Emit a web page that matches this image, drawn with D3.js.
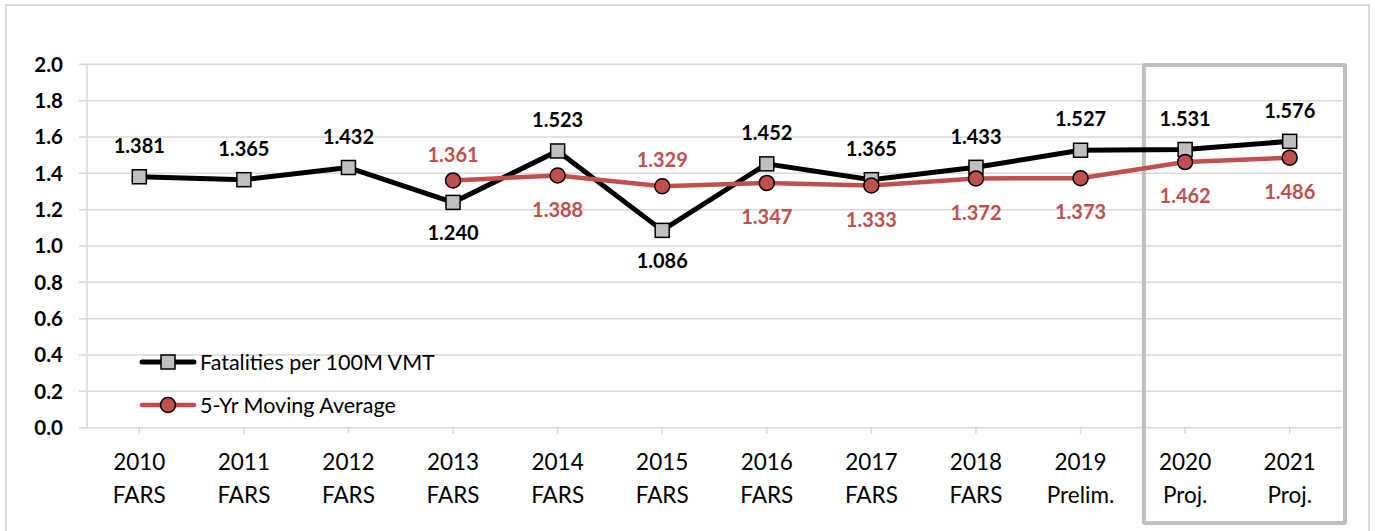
<!DOCTYPE html>
<html><head><meta charset="utf-8">
<script src="https://cdn.jsdelivr.net/npm/d3@7"></script>
<style>
html,body{margin:0;padding:0;background:#fff;}
svg{display:block;font-family:Lato,"Open Sans",sans-serif;}
</style></head>
<body><div id="chart"></div>
<script>
const years = ["2010","2011","2012","2013","2014","2015","2016","2017","2018","2019","2020","2021"];
const sources = ["FARS","FARS","FARS","FARS","FARS","FARS","FARS","FARS","FARS","Prelim.","Proj.","Proj."];
const fatalities = [1.381,1.365,1.432,1.240,1.523,1.086,1.452,1.365,1.433,1.527,1.531,1.576];
const movingAvg = [null,null,null,1.361,1.388,1.329,1.347,1.333,1.372,1.373,1.462,1.486];
const fatalLabelPos = ["t","t","t","b","t","b","t","t","t","t","t","t"];
const avgLabelPos = [null,null,null,"t","b","t","b","b","b","b","b","b"];
const yTicks = [0,0.2,0.4,0.6,0.8,1.0,1.2,1.4,1.6,1.8,2.0];
const seriesNames = ["Fatalities per 100M VMT","5-Yr Moving Average"];
const highlighted = ["2020","2021"];

const W=1375,H=531;
const svg=d3.select("#chart").append("svg").attr("width",W).attr("height",H);
const m={l:87,r:1342,t:64.3,b:427.7};
const x=d3.scaleBand().domain(years).range([m.l,m.r]);
const y=d3.scaleLinear().domain([0,2]).range([m.b,m.t]);
const cx=d=>x(d)+x.bandwidth()/2;
const grid="#d9d9d9";
const red="#c0504d";

// outer frame
svg.append("rect").attr("x",6).attr("y",5).attr("width",1363).attr("height",540)
  .attr("fill","none").attr("stroke","#d9d9d9").attr("stroke-width",2);

// gridlines
svg.append("g").selectAll("line").data(yTicks).join("line")
  .attr("x1",79).attr("x2",m.r).attr("y1",d=>y(d)).attr("y2",d=>y(d))
  .attr("stroke",grid).attr("stroke-width",1.5);
svg.append("line").attr("x1",m.l).attr("x2",m.l).attr("y1",m.t).attr("y2",m.b)
  .attr("stroke",grid).attr("stroke-width",1.5);
svg.append("g").selectAll("text").data(yTicks).join("text")
  .attr("x",63).attr("y",d=>y(d)).attr("dy","0.36em").attr("text-anchor","end")
  .attr("font-weight","bold").attr("font-size",20.5).attr("fill","#000")
  .text(d=>d3.format(".1f")(d));
svg.append("g").selectAll("line").data(years).join("line")
  .attr("x1",cx).attr("x2",cx).attr("y1",m.b).attr("y2",m.b+6)
  .attr("stroke",grid).attr("stroke-width",1.5);
const xl=svg.append("g").selectAll("text").data(years).join("text")
  .attr("x",cx).attr("text-anchor","middle").attr("font-size",22.5).attr("fill","#000");
xl.append("tspan").attr("x",cx).attr("y",470).text(d=>d);
xl.append("tspan").attr("x",cx).attr("y",503).text((d,i)=>sources[i]);

// highlight box
const hx0=x(highlighted[0]), hx1=x(highlighted[highlighted.length-1])+x.bandwidth();
svg.append("rect").attr("x",hx0+11).attr("y",65).attr("width",hx1-hx0-8).attr("height",458)
  .attr("fill","none").attr("stroke","#bfbfbf").attr("stroke-width",4).attr("rx",1);

const line=d3.line().defined(d=>d.v!=null).x(d=>cx(d.k)).y(d=>y(d.v));
const fData=years.map((k,i)=>({k,v:fatalities[i],p:fatalLabelPos[i]}));
const aData=years.map((k,i)=>({k,v:movingAvg[i],p:avgLabelPos[i]}));

svg.append("path").datum(fData).attr("d",line).attr("fill","none").attr("stroke","#000").attr("stroke-width",5).attr("stroke-linejoin","round");
svg.append("path").datum(aData).attr("d",line).attr("fill","none").attr("stroke",red).attr("stroke-width",4.5).attr("stroke-linejoin","round");

const sq=14;
svg.append("g").selectAll("rect").data(fData).join("rect")
  .attr("x",d=>cx(d.k)-sq/2).attr("y",d=>y(d.v)-sq/2).attr("width",sq).attr("height",sq)
  .attr("fill","#bfbfbf").attr("stroke","#000").attr("stroke-width",1.5);
svg.append("g").selectAll("circle").data(aData.filter(d=>d.v!=null)).join("circle")
  .attr("cx",d=>cx(d.k)).attr("cy",d=>y(d.v)).attr("r",7.5)
  .attr("fill",red).attr("stroke","#000").attr("stroke-width",1.5);

svg.append("g").selectAll("text").data(fData).join("text")
  .attr("x",d=>cx(d.k)).attr("y",d=>y(d.v)+(d.p==="t"?-31:30)).attr("dy","0.36em")
  .attr("text-anchor","middle").attr("font-weight","bold").attr("font-size",20).attr("fill","#000")
  .text(d=>d3.format(".3f")(d.v));
svg.append("g").selectAll("text").data(aData.filter(d=>d.v!=null)).join("text")
  .attr("x",d=>cx(d.k)).attr("y",d=>y(d.v)+(d.p==="t"?-26:34)).attr("dy","0.36em")
  .attr("text-anchor","middle").attr("font-weight","bold").attr("font-size",20).attr("fill",red)
  .text(d=>d3.format(".3f")(d.v));

// legend
const lg=[{n:seriesNames[0],c:"#000",s:"sq",y:362},{n:seriesNames[1],c:red,s:"ci",y:405}];
lg.forEach(o=>{
  const g=svg.append("g");
  g.append("line").attr("x1",142).attr("x2",194).attr("y1",o.y).attr("y2",o.y)
    .attr("stroke",o.c).attr("stroke-width",o.s==="sq"?5:4.5).attr("stroke-linecap","round");
  if(o.s==="sq") g.append("rect").attr("x",168-sq/2).attr("y",o.y-sq/2).attr("width",sq).attr("height",sq)
    .attr("fill","#bfbfbf").attr("stroke","#000").attr("stroke-width",1.5);
  else g.append("circle").attr("cx",168).attr("cy",o.y).attr("r",7.5).attr("fill",red).attr("stroke","#000").attr("stroke-width",1.5);
  g.append("text").attr("x",200).attr("y",o.y).attr("dy","0.36em").attr("font-size",21.5).attr("fill","#000").text(o.n);
});
</script></body></html>
